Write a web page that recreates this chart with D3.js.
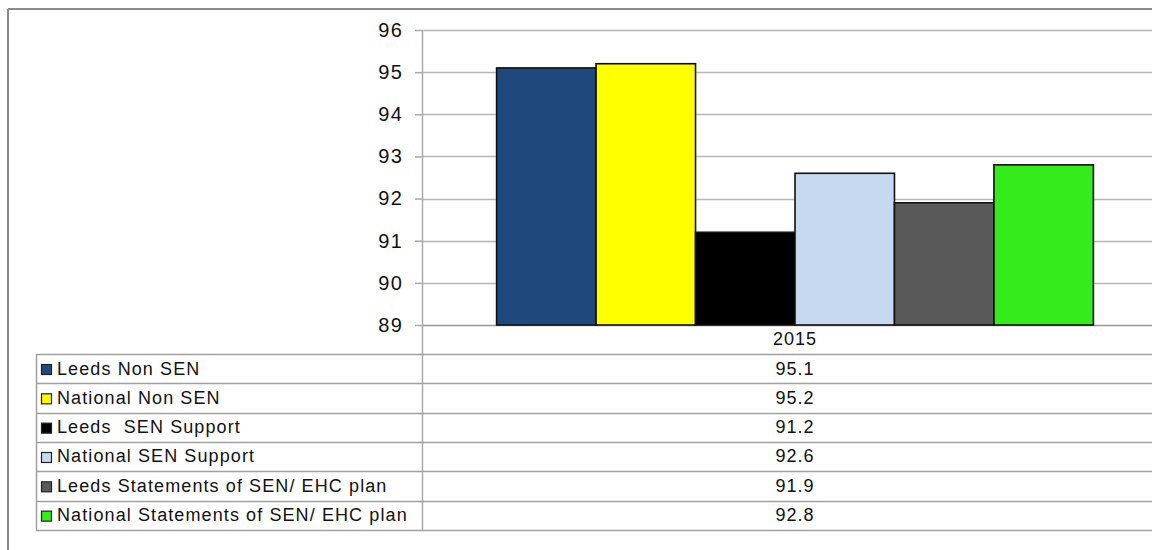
<!DOCTYPE html>
<html>
<head>
<meta charset="utf-8">
<script src="https://cdn.jsdelivr.net/npm/d3@7"></script>
<style>
  html, body { margin: 0; padding: 0; background: #fff; }
  svg { display: block; font-family: "Liberation Sans", Arial, sans-serif; }
</style>
</head>
<body>
<svg id="chart" width="1152" height="550"></svg>
<script>
const categories = ["2015"];
const seriesNames = [
  "Leeds Non SEN",
  "National Non SEN",
  "Leeds  SEN Support",
  "National SEN Support",
  "Leeds Statements of SEN/ EHC plan",
  "National Statements of SEN/ EHC plan"
];
const seriesValues = [95.1, 95.2, 91.2, 92.6, 91.9, 92.8];
const seriesColors = ["#1F497D", "#FFFF00", "#000000", "#C6D9F1", "#595959", "#35EB1B"];
const yTicks = [89, 90, 91, 92, 93, 94, 95, 96];

const svg = d3.select("#chart");
const W = 1152;

const plot = { left: 422, right: 1168, top: 30, bottom: 325 };
const table = { left: 36, top: 354, rowH: 29.33 };

// outer frame
svg.append("line").attr("x1", 8).attr("x2", W).attr("y1", 9).attr("y2", 9)
  .attr("stroke", "#8a8a8a").attr("stroke-width", 2);
svg.append("line").attr("x1", 8).attr("x2", 8).attr("y1", 9).attr("y2", 550)
  .attr("stroke", "#8a8a8a").attr("stroke-width", 2);

const y = d3.scaleLinear().domain([89, 96]).range([plot.bottom, plot.top]);
const xCat = d3.scaleBand().domain(categories).range([plot.left, plot.right]).padding(0);
const xSer = d3.scaleBand().domain(seriesNames).range([0, xCat.bandwidth()])
  .paddingInner(0).paddingOuter(0.75);

// gridlines
svg.append("g").selectAll("line").data(yTicks).join("line")
  .attr("x1", plot.left).attr("x2", W)
  .attr("y1", d => Math.round(y(d)) + 0.5).attr("y2", d => Math.round(y(d)) + 0.5)
  .attr("stroke", d => d === 89 ? "#999" : "#b8b8b8").attr("stroke-width", 1.5);

// y axis
const yAxis = d3.axisLeft(y).tickValues(yTicks).tickSize(7).tickPadding(12)
  .tickFormat(d3.format("d"));
const gy = svg.append("g").attr("transform", `translate(${plot.left},0)`).call(yAxis);
gy.select(".domain").remove();
gy.selectAll(".tick line").attr("stroke", "#aaa").attr("stroke-width", 1.5);
gy.selectAll(".tick text").attr("font-size", 20).attr("fill", "#111")
  .attr("letter-spacing", 1.2)
  .attr("font-family", "'Liberation Sans', Arial, sans-serif");

// vertical divider / axis line
svg.append("line").attr("x1", plot.left + 0.5).attr("x2", plot.left + 0.5)
  .attr("y1", plot.top).attr("y2", table.top + table.rowH * seriesNames.length)
  .attr("stroke", "#aaa").attr("stroke-width", 1.5);

// bars
const barData = seriesNames.map((s, i) => ({ cat: categories[0], name: s, value: seriesValues[i], color: seriesColors[i] }));
svg.append("g").selectAll("rect").data(barData).join("rect")
  .attr("x", d => xCat(d.cat) + xSer(d.name))
  .attr("y", d => y(d.value))
  .attr("width", xSer.bandwidth())
  .attr("height", d => y(89) - y(d.value))
  .attr("fill", d => d.color)
  .attr("stroke", "#111").attr("stroke-width", 1.6);

const midX = xCat(categories[0]) + xCat.bandwidth() / 2;

// category label
svg.append("text").attr("x", midX).attr("y", 345)
  .attr("text-anchor", "middle").attr("font-size", 18).attr("letter-spacing", 1)
  .attr("fill", "#111").text(categories[0]);

// data table
const nRows = seriesNames.length;
const rowYs = d3.range(nRows + 1).map(i => table.top + i * table.rowH);
svg.append("g").selectAll("line").data(rowYs).join("line")
  .attr("x1", table.left).attr("x2", W)
  .attr("y1", d => Math.round(d) + 0.5).attr("y2", d => Math.round(d) + 0.5)
  .attr("stroke", "#a0a0a0").attr("stroke-width", 1.5);
svg.append("line").attr("x1", table.left + 0.5).attr("x2", table.left + 0.5)
  .attr("y1", table.top).attr("y2", rowYs[nRows])
  .attr("stroke", "#a0a0a0").attr("stroke-width", 1.5);

const rows = svg.append("g").selectAll("g").data(barData).join("g")
  .attr("transform", (d, i) => `translate(0,${rowYs[i]})`);
rows.append("rect").attr("x", 41.5).attr("y", 10.5).attr("width", 10).attr("height", 10)
  .attr("fill", d => d.color).attr("stroke", "#222").attr("stroke-width", 1.2);
rows.append("text").attr("x", 57).attr("y", 20.5).attr("font-size", 18).attr("letter-spacing", 1.1)
  .attr("fill", "#111")
  .attr("xml:space", "preserve").style("white-space", "pre").text(d => d.name);
rows.append("text").attr("x", midX).attr("y", 20.5)
  .attr("text-anchor", "middle").attr("font-size", 18).attr("letter-spacing", 1)
  .attr("fill", "#111")
  .text(d => d3.format(".1f")(d.value));
</script>
</body>
</html>
